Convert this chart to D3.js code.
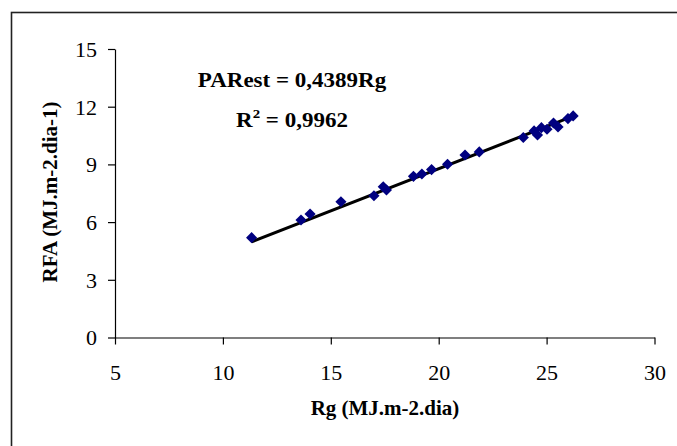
<!DOCTYPE html>
<html>
<head>
<meta charset="utf-8">
<script src="https://cdn.jsdelivr.net/npm/d3@7"></script>
<style>
  body { margin: 0; background: #fff; }
  svg text { font-family: "Liberation Serif", "Times New Roman", Times, "DejaVu Serif", serif !important; fill: #000; }
</style>
</head>
<body>
<script>
// data
let rgValues = [11.33, 13.62, 14.04, 15.47, 17.00, 17.43, 17.58, 18.83, 19.22, 19.67, 20.41,
    21.22, 21.88, 23.92, 24.42, 24.58, 24.76, 25.02, 25.32, 25.53, 25.99, 26.23];
let rfaValues = [5.19, 6.11, 6.42, 7.06, 7.37, 7.84, 7.67, 8.38, 8.50, 8.73, 9.01,
    9.49, 9.65, 10.40, 10.74, 10.53, 10.91, 10.83, 11.15, 10.95, 11.38, 11.52];
let xTicks = [5, 10, 15, 20, 25, 30];
let yTicks = [0, 3, 6, 9, 12, 15];
let slope = 0.4389;
let eqText = "PARest = 0,4389Rg";
let r2Text = "0,9962";

let SvgWidth = 677;
let SvgHeight = 446;

let Svg = d3.select("body")
    .append("svg")
    .attr("width", SvgWidth)
    .attr("height", SvgHeight)

// outer frame (runs off the right and bottom edges)
Svg.append("rect")
    .attr("x", 11.5)
    .attr("y", 12.5)
    .attr("width", 700)
    .attr("height", 470)
    .attr("fill", "none")
    .attr("stroke", "#222")
    .attr("stroke-width", 1.6)

let xScale = d3.scaleLinear()
    .domain([5, 30])
    .range([115, 654.5]);

let yScale = d3.scaleLinear()
    .domain([0, 15])
    .range([337.5, 49]);

let BottomAxis = d3.axisBottom(xScale)
    .tickValues(xTicks)
    .tickSize(7)
    .tickSizeOuter(0);

let LeftAxis = d3.axisLeft(yScale)
    .tickValues(yTicks)
    .tickSize(7)
    .tickSizeOuter(0);

let xAxisG = Svg.append("g")
    .attr("transform", `translate(0,${yScale(0)})`)
    .call(BottomAxis)
    .attr("font-family", null)
xAxisG.selectAll("text")
    .attr("y", 42.5)
    .attr("dy", null)
    .style("font-size", "22px")

let yAxisG = Svg.append("g")
    .attr("transform", `translate(${xScale(5)},0)`)
    .call(LeftAxis)
    .attr("font-family", null)
yAxisG.selectAll("text")
    .attr("x", -18)
    .attr("dy", "0.34em")
    .style("font-size", "22px")

Svg.selectAll(".domain, .tick line")
    .attr("stroke", "#000")
    .attr("stroke-width", 1.2)

// trend line through origin
let xMin = d3.min(rgValues), xMax = d3.max(rgValues);
Svg.append("line")
    .attr("x1", xScale(xMin))
    .attr("y1", yScale(slope * xMin))
    .attr("x2", xScale(xMax))
    .attr("y2", yScale(slope * xMax))
    .attr("stroke", "#000")
    .attr("stroke-width", 3)

let diamond = d3.symbol().type(d3.symbolSquare).size(62);
Svg.selectAll("path.pt")
    .data(rgValues)
    .enter()
    .append("path")
    .attr("class", "pt")
    .attr("d", diamond)
    .attr("transform", (d, i) => `translate(${xScale(d)},${yScale(rfaValues[i])}) rotate(45)`)
    .attr("fill", "#000080")

// equation
Svg.append("g")
    .attr("transform", "translate(292,87) scale(1.15,1)")
    .append("text")
    .attr("text-anchor", "middle")
    .style("font-size", "20px")
    .style("font-weight", "bold")
    .text(eqText)

let r2 = Svg.append("g")
    .attr("transform", "translate(292,126.5) scale(1.15,1)")
    .append("text")
    .attr("text-anchor", "middle")
    .style("font-size", "20px")
    .style("font-weight", "bold")
r2.append("tspan").text("R")
r2.append("tspan").attr("dy", -9).style("font-size", "13px").text("2")
r2.append("tspan").attr("dy", 9).text(" = " + r2Text)

// axis titles
Svg.append("text")
    .attr("x", 385)
    .attr("y", 415)
    .attr("text-anchor", "middle")
    .style("font-size", "21px")
    .style("font-weight", "bold")
    .text("Rg (MJ.m-2.dia)")

Svg.append("text")
    .attr("transform", "translate(56.5,192) rotate(-90)")
    .attr("text-anchor", "middle")
    .style("font-size", "21px")
    .style("font-weight", "bold")
    .text("RFA (MJ.m-2.dia-1)")
</script>
</body>
</html>
